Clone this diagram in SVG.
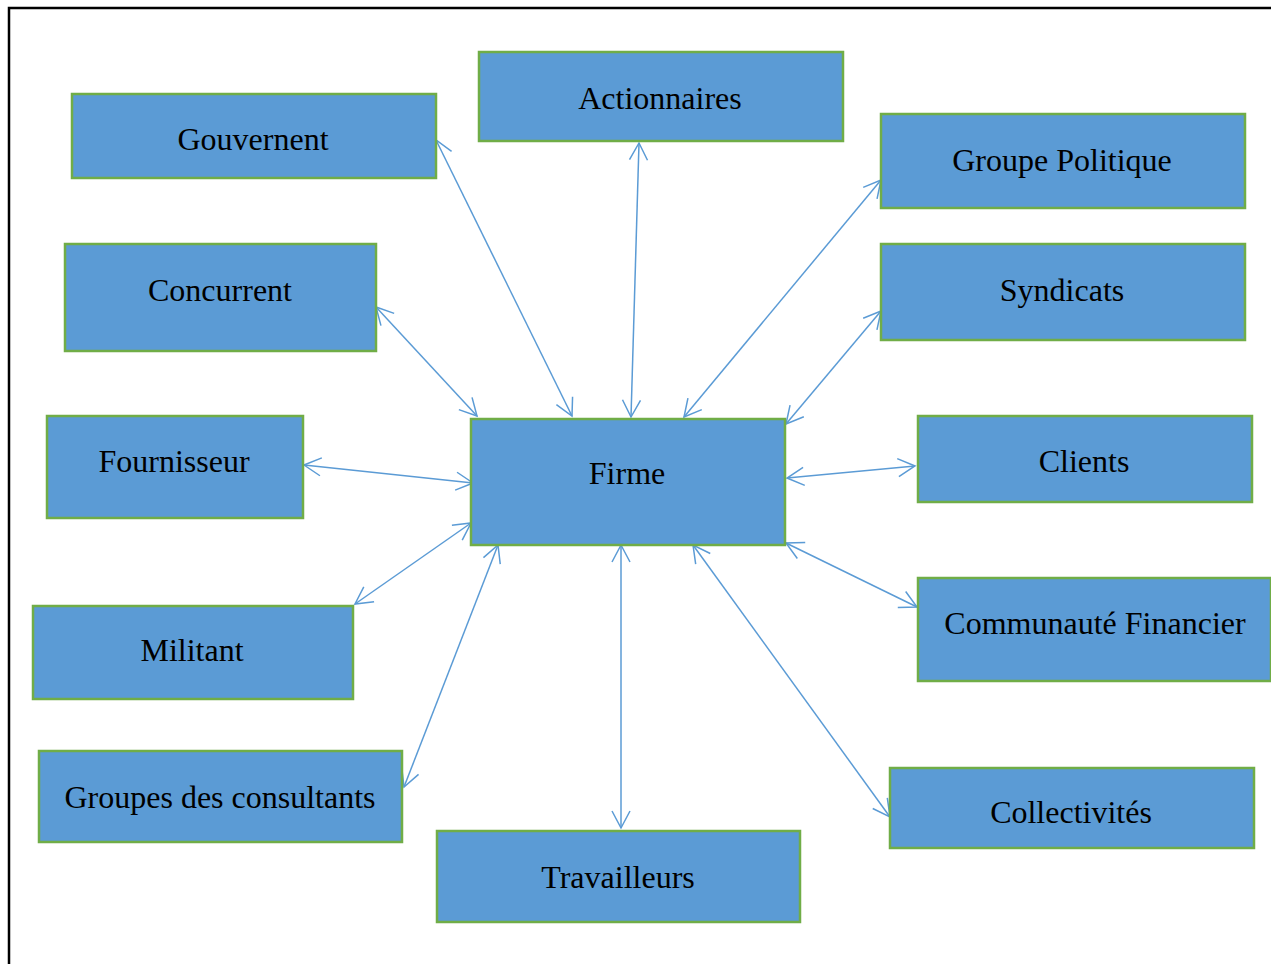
<svg xmlns="http://www.w3.org/2000/svg" width="1271" height="964" viewBox="0 0 1271 964">
<style>
.box{fill:#5B9BD5;stroke:#70AD47;stroke-width:2.5}
.lbl{font-family:"Liberation Serif","Times New Roman",serif;font-size:32px;fill:#000;text-anchor:middle}
.con{stroke:#5B9BD5;stroke-width:1.5;fill:none;marker-start:url(#ah);marker-end:url(#ah)}
</style>
<defs>
<marker id="ah" markerUnits="userSpaceOnUse" viewBox="-19 -11 21 22" markerWidth="21" markerHeight="22" refX="0" refY="0" orient="auto-start-reverse">
<path d="M-17,-9 L0,0 L-17,9" fill="none" stroke="#5B9BD5" stroke-width="1.5"/>
</marker>
</defs>
<rect x="0" y="0" width="1271" height="964" fill="#fff"/>
<path d="M9,964 L9,8 L1271,8" fill="none" stroke="#000" stroke-width="2.5"/>
<g id="connectors">
<line class="con" x1="436" y1="140" x2="572" y2="416"/>
<line class="con" x1="639" y1="143" x2="631" y2="417"/>
<line class="con" x1="881" y1="180" x2="684" y2="417"/>
<line class="con" x1="376" y1="307" x2="477" y2="416"/>
<line class="con" x1="881" y1="311" x2="786" y2="424"/>
<line class="con" x1="304" y1="465" x2="473" y2="483"/>
<line class="con" x1="915" y1="466" x2="787" y2="478"/>
<line class="con" x1="355" y1="604" x2="471" y2="523"/>
<line class="con" x1="404" y1="787" x2="498" y2="545"/>
<line class="con" x1="621" y1="828" x2="621" y2="545"/>
<line class="con" x1="917" y1="607" x2="786" y2="543"/>
<line class="con" x1="890" y1="817" x2="693" y2="545"/>
</g>
<g id="firme"><rect class="box" x="471" y="419" width="314" height="126"/><text class="lbl" x="627" y="484">Firme</text></g>
<g id="gouvernent"><rect class="box" x="72" y="94" width="364" height="84"/><text class="lbl" x="253" y="150">Gouvernent</text></g>
<g id="actionnaires"><rect class="box" x="479" y="52" width="364" height="89"/><text class="lbl" x="660" y="109">Actionnaires</text></g>
<g id="groupe-politique"><rect class="box" x="881" y="114" width="364" height="94"/><text class="lbl" x="1062" y="171">Groupe Politique</text></g>
<g id="concurrent"><rect class="box" x="65" y="244" width="311" height="107"/><text class="lbl" x="220" y="301">Concurrent</text></g>
<g id="syndicats"><rect class="box" x="881" y="244" width="364" height="96"/><text class="lbl" x="1062" y="301">Syndicats</text></g>
<g id="fournisseur"><rect class="box" x="47" y="416" width="256" height="102"/><text class="lbl" x="174" y="472">Fournisseur</text></g>
<g id="clients"><rect class="box" x="918" y="416" width="334" height="86"/><text class="lbl" x="1084" y="472">Clients</text></g>
<g id="communaute-financier"><rect class="box" x="918" y="578" width="353" height="103"/><text class="lbl" x="1095" y="634">Communauté Financier</text></g>
<g id="militant"><rect class="box" x="33" y="606" width="320" height="93"/><text class="lbl" x="192" y="661">Militant</text></g>
<g id="groupes-consultants"><rect class="box" x="39" y="751" width="363" height="91"/><text class="lbl" x="220" y="808">Groupes des consultants</text></g>
<g id="travailleurs"><rect class="box" x="437" y="831" width="363" height="91"/><text class="lbl" x="618" y="888">Travailleurs</text></g>
<g id="collectivites"><rect class="box" x="890" y="768" width="364" height="80"/><text class="lbl" x="1071" y="823">Collectivités</text></g>
</svg>
